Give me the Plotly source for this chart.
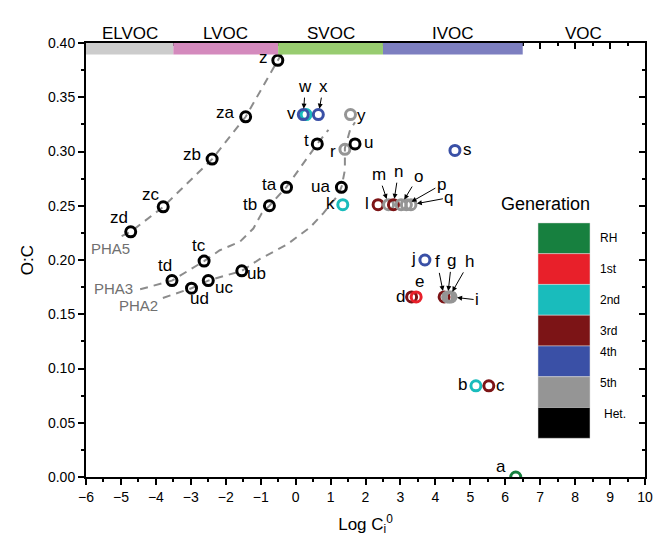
import plotly.graph_objects as go

# ---------------- data ----------------
labels = ["a", "b", "c", "d", "e", "f", "g", "h", "i", "j", "k", "l", "m", "n", "o", "p", "q",
          "r", "s", "t", "u", "v", "w", "x", "y", "z",
          "ta", "tb", "tc", "td", "ua", "ub", "uc", "ud", "za", "zb", "zc", "zd"]
log_c = [6.30, 5.16, 5.53, 3.32, 3.45, 4.25, 4.35, 4.40, 4.45, 3.70, 1.35, 2.36, 2.66, 2.80, 3.02, 3.17, 3.30,
         1.41, 4.56, 0.62, 1.70, 0.30, 0.22, 0.65, 1.57, -0.51,
         -0.26, -0.75, -2.62, -3.54, 1.31, -1.54, -2.50, -2.98, -1.43, -2.39, -3.79, -4.72]
o_to_c = [0.000, 0.084, 0.084, 0.166, 0.166, 0.166, 0.166, 0.166, 0.166, 0.200, 0.251, 0.251, 0.251, 0.251, 0.251, 0.251, 0.251,
          0.302, 0.301, 0.307, 0.307, 0.334, 0.334, 0.334, 0.334, 0.384,
          0.267, 0.250, 0.199, 0.181, 0.267, 0.190, 0.181, 0.174, 0.332, 0.293, 0.249, 0.226]
generation = ["RH", "2nd", "3rd", "3rd", "1st", "3rd", "5th", "5th", "5th", "4th", "2nd", "3rd", "5th", "3rd", "5th", "5th", "5th",
              "5th", "4th", "Het.", "Het.", "2nd", "4th", "4th", "5th", "Het.",
              "Het.", "Het.", "Het.", "Het.", "Het.", "Het.", "Het.", "Het.", "Het.", "Het.", "Het.", "Het."]

gen_names = ["RH", "1st", "2nd", "3rd", "4th", "5th", "Het."]

pha5_x = [-4.98, -4.72, -3.79, -2.39, -1.43, -0.51, -0.35]
pha5_y = [0.222, 0.226, 0.249, 0.293, 0.332, 0.384, 0.393]
pha3_x = [-4.45, -3.54, -2.62, -2.17, -1.59, -1.21, -0.97, -0.75, -0.27, 0.08, 0.36, 0.62, 0.94]
pha3_y = [0.173, 0.181, 0.199, 0.209, 0.217, 0.229, 0.243, 0.250, 0.267, 0.283, 0.295, 0.307, 0.320]
pha2_x = [-3.80, -2.98, -2.50, -1.54, -1.02, -0.26, 0.41, 0.79, 1.22, 1.32, 1.41, 1.41, 1.56, 1.70]
pha2_y = [0.165, 0.174, 0.181, 0.190, 0.201, 0.214, 0.230, 0.243, 0.260, 0.268, 0.283, 0.303, 0.320, 0.327]
pha_names = ["PHA5", "PHA3", "PHA2"]
pha_label_x = [-5.31, -5.21, -4.51]
pha_label_y = [0.211, 0.174, 0.158]

volatility_classes = ["ELVOC", "LVOC", "SVOC", "IVOC", "VOC"]
class_edges = [-6.0, -3.5, -0.5, 2.5, 6.5, 10.0]

# ---------------- styles ----------------
gen_colors = {"RH": "#17803f", "1st": "#e8202a", "2nd": "#19bcbc", "3rd": "#7c1416",
              "4th": "#3a50a6", "5th": "#959595", "Het.": "#000000"}
band_colors = ["#cccccc", "#d48abd", "#98cc70", "#7d7fc0", None]
FONT = "Liberation Sans, Arial, sans-serif"

# label offsets (pixels, screen coords: +x right, +y down)
label_offsets = {
    "a": (-15, -11), "b": (-13, -1), "c": (12, 0), "d": (-11, 0), "e": (3, -15), "j": (-11, -2),
    "k": (-12, -1), "l": (-11, -1), "r": (-12, 2), "s": (13, -1), "t": (-11, -3), "u": (13, -1),
    "v": (-15, -1), "y": (11, 1), "z": (-14, -3),
    "ta": (-17, -3), "tb": (-19, -1), "tc": (-5, -16), "td": (-7, -15),
    "ua": (-21, -1), "ub": (15, 3), "uc": (16, 7), "ud": (8, 10),
    "za": (-20, -4), "zb": (-20, -5), "zc": (-12, -12), "zd": (-12, -14),
}
arrow_offsets = {
    "w": (2, -28), "x": (5, -28), "m": (-10, -30), "n": (5, -33), "o": (17, -28),
    "p": (35, -20), "q": (38, -7), "f": (-7, -35), "g": (4, -36), "h": (20, -35), "i": (26, 3),
}

fig = go.Figure()

# dashed curves
for cx, cy in [(pha5_x, pha5_y), (pha3_x, pha3_y), (pha2_x, pha2_y)]:
    fig.add_trace(go.Scatter(x=cx, y=cy, mode="lines",
                             line=dict(color="#8c8c8c", width=2, dash="8px,6px"),
                             showlegend=False, hoverinfo="skip"))

# points (drawn in list order so overlaps match)
for lab, xv, yv, g in zip(labels, log_c, o_to_c, generation):
    fig.add_trace(go.Scatter(x=[xv], y=[yv], mode="markers",
                             marker=dict(symbol="circle-open", size=10, color=gen_colors[g],
                                         line=dict(width=3, color=gen_colors[g])),
                             showlegend=False, hoverinfo="skip"))

annotations = []
for lab, xv, yv in zip(labels, log_c, o_to_c):
    if lab in label_offsets:
        dx, dy = label_offsets[lab]
        annotations.append(dict(x=xv, y=yv, xref="x", yref="y", text=lab, showarrow=False,
                                xshift=dx, yshift=-dy, font=dict(family=FONT, size=17, color="black")))
    elif lab in arrow_offsets:
        ax, ay = arrow_offsets[lab]
        annotations.append(dict(x=xv, y=yv, xref="x", yref="y", text=lab, showarrow=True,
                                ax=ax, ay=ay, axref="pixel", ayref="pixel",
                                arrowhead=2, arrowsize=1, arrowwidth=1, arrowcolor="black",
                                standoff=6, font=dict(family=FONT, size=17, color="black")))

for name, lx, ly in zip(pha_names, pha_label_x, pha_label_y):
    annotations.append(dict(x=lx, y=ly, xref="x", yref="y", text=name, showarrow=False,
                            font=dict(family=FONT, size=15, color="#707070")))

# volatility band
shapes = []
for i, name in enumerate(volatility_classes):
    x0, x1 = class_edges[i], class_edges[i + 1]
    if band_colors[i]:
        shapes.append(dict(type="rect", xref="x", yref="y", x0=x0, x1=x1, y0=0.3895, y1=0.4,
                           fillcolor=band_colors[i], line=dict(width=0), layer="above"))
    annotations.append(dict(x=(x0 + x1) / 2, y=1.048, xref="x", yref="paper", text=name,
                            showarrow=False, font=dict(family=FONT, size=17, color="black")))

# generation legend (colour blocks)
leg_x0, leg_x1 = 0.8086, 0.9016
leg_top, leg_step = 0.5855, 0.0709
for k, g in enumerate(gen_names):
    y1 = leg_top - k * leg_step
    y0 = y1 - leg_step
    shapes.append(dict(type="rect", xref="paper", yref="paper", x0=leg_x0, x1=leg_x1, y0=y0, y1=y1,
                       fillcolor=gen_colors[g], line=dict(width=0.5, color="#dddddd"), layer="above"))
    annotations.append(dict(x=leg_x1 + 0.014 + (0.007 if g == "Het." else 0), y=(y0 + y1) / 2,
                            xref="paper", yref="paper", text=g, showarrow=False, xanchor="left",
                            font=dict(family=FONT, size=12, color="black")))
annotations.append(dict(x=0.905, y=0.629, xref="paper", yref="paper", text="Generation",
                        showarrow=False, font=dict(family=FONT, size=18, color="black")))

axis_common = dict(showgrid=False, zeroline=False, showline=True, linecolor="black", linewidth=2,
                   tickcolor="black", tickwidth=1.5, ticklen=6, automargin=False)

fig.update_layout(
    width=656, height=542,
    margin=dict(l=86, r=11, t=43, b=65),
    paper_bgcolor="white", plot_bgcolor="white",
    font=dict(family=FONT, size=14, color="black"),
    showlegend=False,
    xaxis=dict(range=[-6, 10], dtick=1, tick0=-6, ticks="outside",
               minor=dict(dtick=0.5, ticklen=3, ticks="outside", tickcolor="black"),
               title=dict(text="Log C<sub>i</sub><sup>0</sup>", font=dict(size=17), standoff=14),
               tickfont=dict(size=14), **axis_common),
    yaxis=dict(range=[0, 0.4], dtick=0.05, tick0=0, tickformat=".2f", ticks="outside",
               minor=dict(dtick=0.025, ticklen=3, ticks="outside", tickcolor="black"),
               title=dict(text="O:C", font=dict(size=17), standoff=10),
               tickfont=dict(size=14), **axis_common),
    xaxis2=dict(range=[-6, 10], dtick=1, tick0=-6, overlaying="x", side="top", ticks="inside",
                showticklabels=False, minor=dict(dtick=0.5, ticklen=3, ticks="inside", tickcolor="black"),
                **axis_common),
    yaxis2=dict(range=[0, 0.4], dtick=0.05, tick0=0, overlaying="y", side="right", ticks="inside",
                showticklabels=False, minor=dict(dtick=0.025, ticklen=3, ticks="inside", tickcolor="black"),
                **axis_common),
    shapes=shapes,
    annotations=annotations,
)
# invisible trace to activate secondary axes
fig.add_trace(go.Scatter(x=[None], y=[None], xaxis="x2", yaxis="y2", showlegend=False, hoverinfo="skip"))

fig.write_html("out.html")
